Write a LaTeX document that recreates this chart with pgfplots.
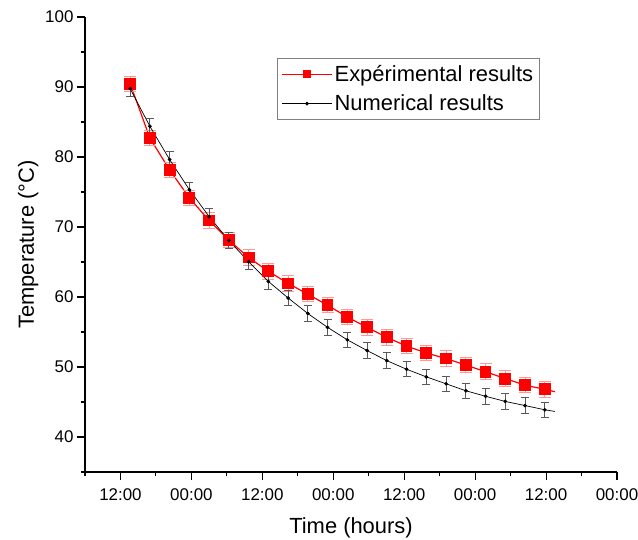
\documentclass[border=0pt]{standalone}
\usepackage{fontspec}
\setmainfont{Liberation Sans}
\usepackage{pgfplots}
\pgfplotsset{compat=1.18}

\begin{document}
\begin{tikzpicture}
\useasboundingbox (-85bp,-68bp) rectangle (553bp,472bp);
\begin{axis}[
    at={(0,0)}, anchor=south west,
    scale only axis,
    width=532bp, height=455bp,
    xmin=6, xmax=96,
    ymin=35, ymax=100,
    axis lines=left,
    axis line style={-, line width=1.3bp},
    tick align=outside,
    major tick length=8bp,
    minor tick length=4bp,
    tick style={line width=1.1bp, black},
    xtick={12,24,...,96},
    xticklabels={12:00,00:00,12:00,00:00,12:00,00:00,12:00,00:00},
    minor xtick={6,18,...,90},
    ytick={40,50,...,100},
    minor ytick={35,45,...,95},
    /pgf/number format/assume math mode=true,
    ticklabel style={font=\fontsize{17}{20}\selectfont},
    xticklabel style={yshift=-5bp},
    label style={font=\fontsize{22}{26}\selectfont},
    xlabel={Time (hours)},
    xlabel style={yshift=-10bp},
    ylabel={Temperature (°C)},
    legend style={at={(0.361,0.91)}, anchor=north west, draw=gray,
        line width=0.8bp, font=\fontsize{22}{26}\selectfont,
        inner xsep=4bp, inner ysep=5bp, row sep=8bp},
    legend cell align=left,
]
% experimental results
\addplot[red, line width=1.2bp, mark=square*, mark size=5.3bp,
    mark options={solid, fill=red},
    legend image code/.code={\draw[mark repeat=2, mark phase=2, mark size=3.5bp]
        plot coordinates {(0bp,0bp) (25bp,0bp) (50bp,0bp)};},
    error bars/.cd, y dir=both, y fixed=1.1,
    error bar style={red!40, line width=1bp},
    error mark options={rotate=90, mark size=6bp, red!40, line width=1bp}]
coordinates {
    (13.64,90.46) (16.98,82.70) (20.32,78.15) (23.66,74.15) (27.00,70.93)
    (30.34,68.12) (33.68,65.64) (37.02,63.67) (40.36,61.94) (43.70,60.40)
    (47.04,58.82) (50.38,57.14) (53.72,55.66) (57.06,54.23) (60.40,52.99)
    (63.74,52.00) (67.08,51.21) (70.42,50.27) (73.76,49.33) (77.10,48.34)
    (80.44,47.40) (83.78,46.81)
};
\addlegendentry{Expérimental results}
\addplot[red, line width=1.2bp, forget plot] coordinates {(83.78,46.81) (85.5,46.47)};
% numerical results
\addplot[black, line width=0.7bp, mark=*, mark size=1.5bp,
    legend image code/.code={\draw[mark repeat=2, mark phase=2]
        plot coordinates {(0bp,0bp) (25bp,0bp) (50bp,0bp)};},
    error bars/.cd, y dir=both, y fixed=1.1,
    error bar style={black!65, line width=0.9bp},
    error mark options={rotate=90, mark size=4bp, black!65, line width=0.9bp}]
coordinates {
    (13.64,89.77) (16.98,84.38) (20.32,79.63) (23.66,75.33) (27.00,71.48)
    (30.34,68.07) (33.68,65.05) (37.02,62.23) (40.36,59.86) (43.70,57.64)
    (47.04,55.66) (50.38,53.88) (53.72,52.35) (57.06,50.91) (60.40,49.68)
    (63.74,48.59) (67.08,47.60) (70.42,46.61) (73.76,45.82) (77.10,45.08)
    (80.44,44.49) (83.78,43.89)
};
\addlegendentry{Numerical results}
\addplot[black, line width=0.7bp, forget plot] coordinates {(83.78,43.89) (85.5,43.65)};
\end{axis}
\end{tikzpicture}
\end{document}
